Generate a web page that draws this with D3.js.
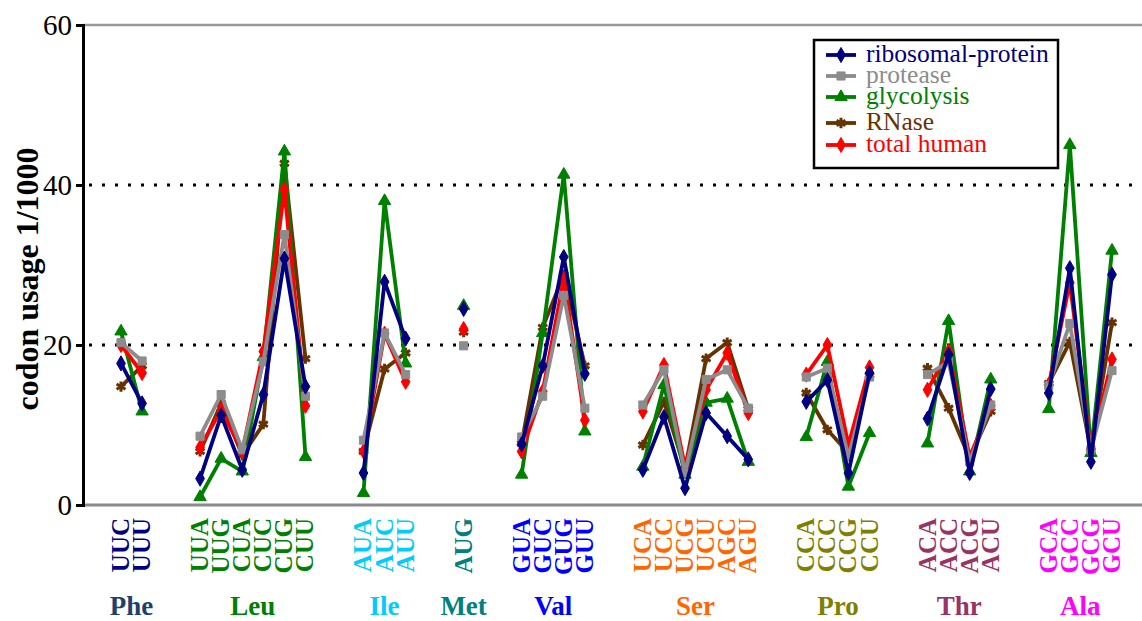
<!DOCTYPE html>
<html>
<head>
<meta charset="utf-8">
<script src="https://cdn.jsdelivr.net/npm/d3@7"></script>
<style>
  html, body { margin: 0; padding: 0; background: #fff; }
  svg { display: block; font-family: "Liberation Serif", "Times New Roman", serif; }
</style>
</head>
<body>
<svg id="chart" width="1142" height="621"></svg>
<script>
// Amino acids, their codons and label colours
const aminoAcids = ["Phe", "Leu", "Ile", "Met", "Val", "Ser", "Pro", "Thr", "Ala"];
const aaColors = ["#1f3f6e", "#008000", "#00ccff", "#008080", "#0000ff", "#ff6600", "#808000", "#993366", "#ff00ff"];
const codonColors = ["#000080", "#008000", "#00ccff", "#008080", "#0000ff", "#ff6600", "#808000", "#993366", "#ff00ff"];
const codons = [
  ["UUC", "UUU"],
  ["UUA", "UUG", "CUA", "CUC", "CUG", "CUU"],
  ["AUA", "AUC", "AUU"],
  ["AUG"],
  ["GUA", "GUC", "GUG", "GUU"],
  ["UCA", "UCC", "UCG", "UCU", "AGC", "AGU"],
  ["CCA", "CCC", "CCG", "CCU"],
  ["ACA", "ACC", "ACG", "ACU"],
  ["GCA", "GCC", "GCG", "GCU"]
];

// Codon usage per 1000 codons, in the codon order above
const ribosomalProtein = [17.7, 12.7, 3.3, 11.2, 4.4, 13.8, 30.8, 14.8, 4.0, 27.9, 20.8, 24.5,
  7.6, 17.4, 31.0, 16.4, 4.4, 11.0, 2.1, 11.5, 8.6, 5.7, 12.9, 15.6, 4.0, 16.5,
  10.8, 18.8, 4.0, 14.5, 14.0, 29.6, 5.4, 28.8];
const protease = [20.3, 18.0, 8.6, 13.8, 6.9, 17.9, 33.8, 13.6, 8.1, 21.5, 16.3, 19.9,
  8.5, 13.6, 26.2, 12.1, 12.5, 16.9, 4.0, 15.7, 16.9, 12.1, 16.0, 17.1, 6.0, 16.0,
  16.3, 17.9, 5.4, 12.5, 14.9, 22.7, 6.9, 16.8];
const glycolysis = [21.7, 11.7, 1.0, 5.8, 4.2, 18.5, 44.2, 6.0, 1.5, 38.0, 17.7, 24.9,
  3.8, 21.5, 41.3, 9.2, 4.8, 15.0, 3.8, 12.8, 13.3, 5.4, 8.5, 17.9, 2.3, 9.0,
  7.7, 23.0, 4.2, 15.7, 12.0, 45.0, 6.5, 31.8];
const rnase = [14.8, 17.4, 6.7, 12.7, 6.2, 10.1, 42.7, 18.3, 6.7, 17.0, 19.0, 21.6,
  7.7, 22.2, 28.8, 17.4, 7.5, 12.9, 4.5, 18.3, 20.3, 12.0, 14.0, 9.4, 6.5, 16.2,
  17.1, 12.1, 5.8, 11.7, 15.2, 20.4, 6.8, 22.8];
const totalHuman = [20.0, 16.5, 7.2, 11.9, 6.7, 19.2, 39.4, 12.4, 6.7, 21.4, 15.4, 22.0,
  6.7, 14.2, 28.3, 10.6, 11.7, 17.5, 4.8, 14.4, 19.0, 11.5, 16.3, 20.0, 7.5, 17.2,
  14.4, 19.2, 6.0, 12.4, 15.0, 27.8, 6.9, 18.2];

const yTicks = [0, 20, 40, 60];
const yGrid = [20, 40];

const seriesNames = ["ribosomal-protein", "protease", "glycolysis", "RNase", "total human"];
const seriesValues = [ribosomalProtein, protease, glycolysis, rnase, totalHuman];
const seriesColors = ["#000080", "#8c8c8c", "#008000", "#663300", "#ff0000"];
const seriesSymbols = [d3.symbolDiamond, d3.symbolSquare, d3.symbolTriangle, d3.symbolAsterisk, d3.symbolDiamond];
const drawOrder = [3, 2, 4, 1, 0];

// Codon slots: one unit per codon, wider gap between amino acids
const groupGap = 2.75;
const slots = [];
let pos = 0;
codons.forEach((list, g) => {
  if (g > 0) pos += groupGap - 1;
  list.forEach(c => { slots.push({ codon: c, group: g, pos: pos }); pos += 1; });
});
const lastPos = slots[slots.length - 1].pos;

const svg = d3.select("#chart");
const x = d3.scaleLinear().domain([0, lastPos]).range([121, 1112]);
const y = d3.scaleLinear().domain([0, 60]).range([505, 25]);
const axisX = 83;

// Frame: grey top and bottom rules
svg.append("line").attr("x1", axisX).attr("x2", 1142).attr("y1", y(60)).attr("y2", y(60))
  .attr("stroke", "#999").attr("stroke-width", 2.5);
svg.append("line").attr("x1", axisX).attr("x2", 1142).attr("y1", y(0)).attr("y2", y(0))
  .attr("stroke", "#8a8a8a").attr("stroke-width", 3);

// Dotted gridlines
svg.selectAll(".grid").data(yGrid).join("line")
  .attr("x1", axisX + 6).attr("x2", 1142)
  .attr("y1", d => y(d)).attr("y2", d => y(d))
  .attr("stroke", "#000").attr("stroke-width", 3).attr("stroke-dasharray", "3 10");

// Y axis
const yAxis = d3.axisLeft(y).tickValues(yTicks).tickSize(7).tickPadding(4).tickFormat(d3.format("d"));
const gy = svg.append("g").attr("transform", `translate(${axisX},0)`).call(yAxis)
  .attr("font-family", "Liberation Serif");
gy.select(".domain").attr("stroke", "#000").attr("stroke-width", 3);
gy.selectAll(".tick line").attr("stroke", "#000").attr("stroke-width", 3);
gy.selectAll(".tick text").attr("font-size", 29).attr("fill", "#000").attr("dy", "0.34em");

svg.append("text")
  .attr("transform", `translate(38,${279}) rotate(-90)`)
  .attr("text-anchor", "middle")
  .attr("font-size", 32).attr("font-weight", "bold").attr("fill", "#000")
  .text("codon usage 1/1000");

// Series lines (one polyline per amino acid) and markers
const line = d3.line().x(d => x(d.pos)).y(d => y(d.v));
drawOrder.forEach(si => {
  const vals = seriesValues[si];
  const pts = slots.map((s, i) => ({ pos: s.pos, group: s.group, v: vals[i] }));
  const g = svg.append("g");
  d3.groups(pts, d => d.group).forEach(([grp, arr]) => {
    if (arr.length > 1) {
      g.append("path").attr("d", line(arr)).attr("fill", "none")
        .attr("stroke", seriesColors[si]).attr("stroke-width", 3.8).attr("stroke-linejoin", "round");
    }
  });
  const sym = d3.symbol().type(seriesSymbols[si]).size(si === 3 ? 75 : 66);
  g.selectAll("path.m").data(pts).join("path").attr("class", "m")
    .attr("transform", d => `translate(${x(d.pos)},${y(d.v)})`)
    .attr("d", sym)
    .attr("fill", seriesColors[si])
    .attr("stroke", seriesColors[si])
    .attr("stroke-width", si === 3 ? 3 : 1);
});

// Codon labels (vertical) and amino acid names
svg.selectAll(".codon").data(slots).join("text")
  .attr("transform", d => `translate(${x(d.pos) + 8},${518}) rotate(-90)`)
  .attr("text-anchor", "end")
  .attr("font-size", 25).attr("font-weight", "bold")
  .attr("fill", d => codonColors[d.group])
  .text(d => d.codon);

aminoAcids.forEach((aa, g) => {
  const grp = slots.filter(s => s.group === g);
  const cx = (x(grp[0].pos) + x(grp[grp.length - 1].pos)) / 2;
  svg.append("text").attr("x", cx).attr("y", 615)
    .attr("text-anchor", "middle").attr("font-size", 27).attr("font-weight", "bold")
    .attr("fill", aaColors[g]).text(aa);
});

// Legend
const lg = svg.append("g");
lg.append("rect").attr("x", 814).attr("y", 40).attr("width", 244).attr("height", 128)
  .attr("fill", "#fff").attr("stroke", "#000").attr("stroke-width", 2.5);
const rowY = [55, 76, 97, 123, 145];
seriesNames.forEach((name, si) => {
  const cy = rowY[si];
  lg.append("line").attr("x1", 826).attr("x2", 856).attr("y1", cy).attr("y2", cy)
    .attr("stroke", seriesColors[si]).attr("stroke-width", 3.8);
  lg.append("path").attr("transform", `translate(841,${cy})`)
    .attr("d", d3.symbol().type(seriesSymbols[si]).size(si === 3 ? 75 : 66))
    .attr("fill", seriesColors[si]).attr("stroke", seriesColors[si]).attr("stroke-width", si === 3 ? 3 : 1);
  lg.append("text").attr("x", 866).attr("y", cy + 7)
    .attr("font-size", 25.5).attr("fill", seriesColors[si]).text(name);
});
</script>
</body>
</html>
